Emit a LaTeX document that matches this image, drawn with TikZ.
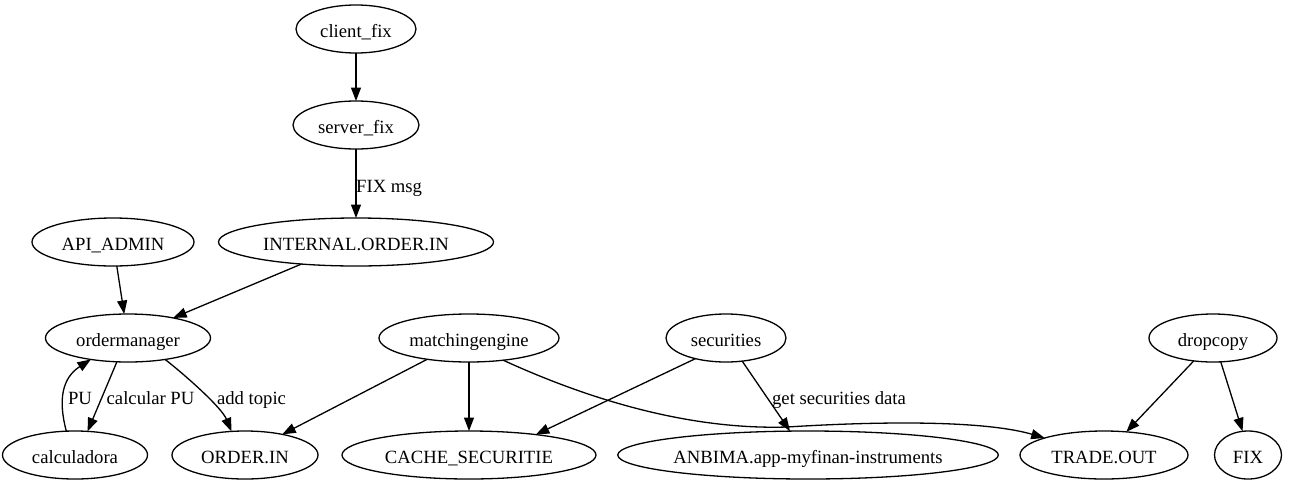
\documentclass[tikz,border=0pt]{standalone}
\usepackage{fontspec}
\setmainfont{Liberation Serif}
\usetikzlibrary{shapes.geometric,arrows.meta}
\begin{document}
\begin{tikzpicture}[x=1pt,y=1pt,
  nd/.style={draw, ellipse, line width=1.3pt, inner sep=0pt, outer sep=0pt,
    minimum height=48pt, text height=17pt, text depth=0pt,
    font=\fontsize{18.67}{22}\selectfont},
  ar/.style={-{Triangle[length=13.5pt,width=10pt]}, line width=1.3pt},
  lb/.style={font=\fontsize{18.67}{22}\selectfont, inner sep=0pt}]
\useasboundingbox (0,0) rectangle (1292,-485);
% nodes
\node[nd, minimum width=120pt] (client) at (356,-29) {client\_fix};
\node[nd, minimum width=126pt] (server) at (356,-125) {server\_fix};
\node[nd, minimum width=275pt] (internal) at (356,-242) {INTERNAL.ORDER.IN};
\node[nd, minimum width=162pt] (api) at (113,-242) {API\_ADMIN};
\node[nd, minimum width=165pt] (om) at (128,-338) {ordermanager};
\node[nd, minimum width=180pt] (me) at (469,-338) {matchingengine};
\node[nd, minimum width=120pt] (sec) at (726,-338) {securities};
\node[nd, minimum width=128pt] (dc) at (1213,-338) {dropcopy};
\node[nd, minimum width=145pt] (calc) at (75,-455) {calculadora};
\node[nd, minimum width=146pt] (orderin) at (245,-455) {ORDER.IN};
\node[nd, minimum width=254pt] (cache) at (469,-455) {CACHE\_SECURITIE};
\node[nd, minimum width=376pt] (anbima) at (808,-455) {ANBIMA.app-myfinan-instruments};
\node[nd, minimum width=168pt] (trade) at (1104,-455) {TRADE.OUT};
\node[nd, minimum width=67pt] (fix) at (1248,-455) {FIX};
% labels
\node[lb, anchor=base west] (lfix) at (356,-192) {FIX msg};
\node[lb, anchor=base] (lpu) at (80,-404) {PU};
\node[lb, anchor=base] (lcalc) at (150.5,-404) {calcular PU};
\node[lb, anchor=base] (ladd) at (251.5,-404) {add topic};
\node[lb, anchor=base] (lget) at (839,-404) {get securities data};
% edges
\draw[ar] (client) -- (server);
\draw[ar] (server) -- (internal);
\draw[ar] (api.279.5) -- (om.99);
\draw[ar] (internal.202) -- (om.24);
\draw[ar] (om.245) -- (calc.62);
\draw[ar] (calc.110) .. controls (58,-400) and (62,-378) .. (om.210);
\draw[ar] (om.330) .. controls (188.6,-377.9) and (222,-408.2) .. (orderin.120);
\draw[ar] (me.207.6) -- (orderin.29);
\draw[ar] (me) -- (cache);
\draw[ar] (me.327) .. controls (590,-400) and (690,-430) .. (787,-427)
  .. controls (900,-420) and (990,-422) .. (trade.164);
\draw[ar] (sec.214) -- (cache.17);
\draw[ar] (sec.305) -- (anbima.127);
\draw[ar] (dc.230) -- (trade.46);
\draw[ar] (dc.288) -- (fix.103);
\end{tikzpicture}
\end{document}
